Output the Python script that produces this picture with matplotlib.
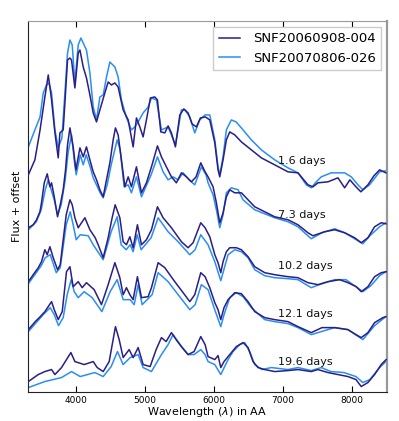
import matplotlib
matplotlib.use("Agg")
import matplotlib.pyplot as plt

# {{{ data: wavelength (AA) and flux + offset (arbitrary units)
names = ["SNF20060908-004", "SNF20070806-026"]
phase_labels = ["1.6 days", "7.3 days", "10.2 days", "12.1 days", "19.6 days"]
label_wl = 6930
label_flux = [231, 177, 126, 78, 30]

# 1.6 days
wl_a1 = [3305, 3400, 3475, 3545, 3594, 3618, 3642, 3691, 3739, 3763, 3811, 3836, 3874, 3909, 3932, 3981, 4029, 4054, 4102, 4149, 4199, 4247, 4295, 4344, 4416, 4464, 4512, 4562, 4609, 4682, 4755, 4827, 4875, 4924, 4972, 5020, 5078, 5142, 5180, 5229, 5287, 5335, 5383, 5441, 5505, 5563, 5625, 5683, 5746, 5804, 5876, 5940, 6013, 6060, 6085, 6133, 6181, 6230, 6303, 6399, 6544, 6689, 6883, 7076, 7221, 7366, 7439, 7511, 7657, 7802, 7899, 7975, 8063, 8135, 8237, 8324, 8407, 8498]
fx_a1 = [217, 232, 262, 295, 317, 305, 292, 259, 234, 259, 262, 289, 332, 334, 332, 304, 339, 342, 325, 314, 297, 279, 270, 282, 299, 310, 307, 309, 305, 282, 272, 245, 274, 265, 255, 272, 294, 295, 292, 260, 259, 266, 259, 245, 277, 283, 279, 268, 265, 274, 275, 272, 249, 222, 215, 232, 252, 260, 257, 250, 242, 234, 227, 220, 219, 207, 205, 209, 210, 214, 204, 212, 205, 200, 207, 216, 222, 219]
wl_b1 = [3305, 3400, 3475, 3521, 3569, 3604, 3642, 3691, 3739, 3792, 3836, 3874, 3909, 3942, 3981, 4029, 4068, 4102, 4149, 4199, 4247, 4295, 4344, 4392, 4440, 4489, 4562, 4609, 4657, 4726, 4802, 4852, 4900, 4972, 5045, 5093, 5165, 5238, 5335, 5441, 5528, 5577, 5650, 5722, 5795, 5872, 5940, 6013, 6060, 6085, 6133, 6181, 6253, 6322, 6399, 6544, 6689, 6883, 7076, 7221, 7342, 7414, 7487, 7559, 7704, 7899, 7995, 8092, 8164, 8261, 8407, 8498]
fx_b1 = [245, 262, 275, 299, 307, 309, 299, 262, 244, 254, 299, 339, 352, 347, 309, 347, 354, 349, 342, 319, 285, 272, 295, 297, 315, 330, 325, 315, 292, 275, 262, 265, 270, 279, 285, 294, 292, 262, 265, 247, 282, 282, 275, 259, 272, 277, 277, 252, 225, 217, 235, 262, 272, 270, 264, 252, 242, 232, 224, 219, 207, 204, 210, 215, 219, 219, 215, 207, 202, 207, 220, 221]

# 7.3 days
wl_a2 = [3305, 3376, 3424, 3473, 3496, 3536, 3579, 3618, 3642, 3681, 3729, 3768, 3811, 3845, 3874, 3909, 3956, 3996, 4054, 4102, 4149, 4199, 4247, 4295, 4344, 4392, 4440, 4489, 4537, 4570, 4609, 4657, 4707, 4755, 4802, 4875, 4948, 5020, 5093, 5180, 5238, 5310, 5383, 5455, 5528, 5601, 5673, 5741, 5809, 5872, 5915, 5988, 6036, 6085, 6133, 6181, 6230, 6303, 6399, 6496, 6593, 6738, 6883, 7076, 7221, 7366, 7439, 7608, 7754, 7899, 8044, 8140, 8237, 8334, 8430, 8498]
fx_a2 = [164, 167, 172, 180, 189, 209, 218, 205, 209, 195, 175, 187, 202, 222, 247, 264, 245, 222, 244, 235, 245, 232, 220, 212, 202, 195, 212, 229, 252, 264, 257, 232, 205, 215, 205, 225, 199, 209, 225, 246, 235, 225, 215, 209, 219, 215, 210, 215, 229, 220, 215, 205, 189, 169, 179, 195, 202, 199, 199, 192, 185, 180, 175, 172, 167, 159, 156, 160, 162, 159, 154, 149, 154, 165, 169, 168]
wl_b2 = [3305, 3420, 3492, 3550, 3594, 3637, 3681, 3729, 3782, 3840, 3884, 3932, 3971, 4000, 4058, 4102, 4145, 4203, 4247, 4348, 4392, 4450, 4508, 4595, 4638, 4696, 4755, 4802, 4875, 4948, 5088, 5180, 5262, 5335, 5407, 5480, 5553, 5640, 5722, 5818, 5886, 5915, 5988, 6036, 6085, 6133, 6181, 6253, 6351, 6423, 6593, 6738, 6883, 7076, 7221, 7414, 7570, 7754, 7899, 8044, 8164, 8266, 8407, 8498]
fx_b2 = [162, 170, 182, 202, 212, 202, 192, 177, 187, 212, 240, 257, 232, 217, 237, 227, 237, 225, 214, 199, 194, 207, 227, 252, 242, 205, 207, 199, 215, 195, 217, 235, 220, 212, 215, 212, 219, 212, 207, 225, 217, 209, 197, 182, 164, 177, 199, 204, 202, 192, 182, 178, 174, 170, 165, 153, 159, 163, 159, 153, 148, 156, 165, 169]

# 10.2 days
wl_a3 = [3305, 3376, 3449, 3496, 3545, 3579, 3618, 3666, 3729, 3768, 3811, 3855, 3909, 3942, 3981, 4029, 4126, 4199, 4276, 4319, 4392, 4464, 4522, 4566, 4634, 4682, 4730, 4779, 4827, 4889, 4948, 5020, 5093, 5180, 5262, 5383, 5528, 5625, 5698, 5809, 5872, 5940, 6013, 6060, 6100, 6133, 6181, 6230, 6326, 6399, 6496, 6593, 6738, 6883, 7076, 7221, 7366, 7511, 7657, 7826, 7947, 8067, 8140, 8237, 8334, 8430, 8502]
fx_a3 = [110, 117, 124, 130, 142, 137, 145, 134, 122, 127, 152, 177, 192, 187, 174, 164, 174, 162, 154, 147, 134, 154, 174, 187, 174, 150, 147, 155, 144, 167, 147, 152, 162, 185, 174, 164, 150, 144, 149, 169, 164, 155, 137, 129, 119, 130, 140, 144, 144, 142, 135, 125, 119, 117, 115, 114, 109, 107, 110, 112, 109, 105, 100, 105, 115, 119, 120]
wl_b3 = [3305, 3492, 3550, 3623, 3710, 3768, 3855, 3913, 3956, 4000, 4058, 4174, 4247, 4392, 4508, 4595, 4653, 4726, 4784, 4827, 4885, 4943, 5088, 5190, 5335, 5480, 5650, 5727, 5809, 5915, 6013, 6100, 6206, 6303, 6399, 6496, 6593, 6738, 6883, 7076, 7221, 7414, 7570, 7754, 7918, 8063, 8164, 8280, 8407, 8498]
fx_b3 = [108, 126, 134, 137, 119, 124, 167, 180, 167, 152, 157, 156, 147, 132, 160, 175, 147, 142, 147, 140, 157, 142, 154, 174, 160, 150, 137, 142, 157, 147, 130, 111, 137, 142, 140, 134, 122, 116, 114, 113, 112, 104, 108, 112, 112, 105, 100, 106, 116, 120]

# 12.1 days
wl_a4 = [3305, 3405, 3478, 3545, 3642, 3681, 3739, 3797, 3859, 3909, 3956, 4029, 4087, 4149, 4261, 4367, 4464, 4562, 4634, 4682, 4730, 4779, 4827, 4889, 4948, 5045, 5093, 5190, 5287, 5432, 5553, 5650, 5722, 5809, 5872, 5940, 6013, 6060, 6100, 6147, 6206, 6303, 6399, 6496, 6593, 6738, 6883, 7076, 7221, 7414, 7570, 7754, 7947, 8063, 8140, 8237, 8334, 8454, 8498]
fx_a4 = [62, 70, 75, 80, 90, 82, 72, 80, 120, 125, 105, 110, 104, 109, 102, 87, 107, 129, 114, 97, 104, 97, 92, 115, 94, 95, 104, 129, 124, 110, 99, 90, 97, 119, 115, 104, 89, 82, 72, 84, 92, 99, 98, 90, 80, 74, 72, 70, 65, 59, 64, 64, 62, 57, 54, 59, 69, 74, 75]
wl_b4 = [3305, 3521, 3623, 3681, 3743, 3811, 3869, 3927, 3971, 4029, 4116, 4232, 4373, 4493, 4595, 4682, 4784, 4842, 4900, 4958, 5103, 5190, 5335, 5480, 5650, 5727, 5818, 5915, 6002, 6100, 6147, 6230, 6326, 6423, 6544, 6738, 6883, 7076, 7221, 7414, 7754, 7947, 8164, 8334, 8498]
fx_b4 = [60, 77, 84, 77, 66, 74, 97, 112, 100, 94, 100, 94, 80, 100, 112, 92, 92, 87, 107, 87, 97, 119, 110, 97, 82, 87, 107, 102, 84, 65, 77, 94, 99, 95, 84, 72, 70, 68, 64, 57, 64, 62, 52, 66, 75]

# 19.6 days
wl_a5 = [3305, 3449, 3545, 3642, 3691, 3787, 3859, 3923, 3981, 4116, 4247, 4305, 4392, 4479, 4570, 4624, 4682, 4769, 4827, 4900, 4972, 5074, 5161, 5238, 5306, 5383, 5451, 5538, 5625, 5712, 5809, 5872, 5915, 6013, 6060, 6100, 6147, 6230, 6326, 6423, 6496, 6568, 6641, 6738, 6883, 7076, 7221, 7414, 7511, 7657, 7802, 7947, 8063, 8140, 8237, 8334, 8430, 8502]
fx_a5 = [10, 17, 20, 22, 17, 24, 32, 39, 30, 27, 30, 24, 20, 30, 65, 52, 34, 42, 34, 44, 27, 25, 42, 54, 50, 59, 52, 44, 37, 40, 55, 47, 35, 32, 36, 24, 30, 37, 45, 49, 44, 30, 24, 22, 20, 21, 22, 20, 22, 19, 17, 15, 12, 5, 9, 17, 27, 32]
wl_b5 = [3305, 3545, 3787, 3932, 4058, 4271, 4392, 4508, 4599, 4682, 4784, 4900, 4972, 5093, 5238, 5335, 5407, 5509, 5625, 5712, 5809, 5872, 5915, 6013, 6100, 6206, 6278, 6375, 6448, 6520, 6593, 6699, 6834, 7076, 7221, 7414, 7559, 7700, 7889, 8063, 8164, 8266, 8407, 8498]
fx_b5 = [4, 10, 14, 20, 15, 19, 15, 25, 40, 27, 34, 37, 24, 20, 37, 47, 57, 47, 37, 37, 42, 37, 30, 27, 17, 32, 40, 47, 49, 40, 27, 22, 24, 22, 24, 21, 24, 20, 19, 15, 9, 12, 24, 30]
# }}}

dark_wl = [wl_a1, wl_a2, wl_a3, wl_a4, wl_a5]
dark_fx = [fx_a1, fx_a2, fx_a3, fx_a4, fx_a5]
light_wl = [wl_b1, wl_b2, wl_b3, wl_b4, wl_b5]
light_fx = [fx_b1, fx_b2, fx_b3, fx_b4, fx_b5]

dark_color = "#2a1f86"
light_color = "#2a8ef2"

fig = plt.figure(figsize=(3.99, 4.21), dpi=100)
ax = fig.add_axes([0.0702, 0.070, 0.899, 0.880])

for i in range(len(phase_labels)):
    ax.plot(light_wl[i], light_fx[i], color=light_color, lw=1.1, zorder=2)
    ax.plot(dark_wl[i], dark_fx[i], color=dark_color, lw=1.1, zorder=3)
    ax.text(label_wl, label_flux[i], phase_labels[i], fontsize=8,
            va="center", ha="left", color="#111111", zorder=4)

h_dark, = ax.plot([], [], color=dark_color, lw=1.1)
h_light, = ax.plot([], [], color=light_color, lw=1.1)
ax.legend([h_dark, h_light], names, loc="upper right",
          bbox_to_anchor=(381 / 399, 1 - 27 / 421),
          bbox_transform=fig.transFigure, borderaxespad=0,
          fontsize=9.5, handlelength=1.6, handletextpad=1.0,
          fancybox=False, edgecolor="#cccccc", framealpha=1)

ax.set_xlim(3300, 8510)
ax.set_ylim(0, 371)
ax.set_xticks([4000, 5000, 6000, 7000, 8000])
ax.set_yticks([])
ax.tick_params(axis="x", direction="in", top=True, length=4,
               labelsize=6.5, pad=3)
ax.set_xlabel(r"Wavelength ($\lambda$) in AA", fontsize=8, labelpad=0)
ax.set_ylabel("Flux + offset", fontsize=8, labelpad=4)

for side in ("left", "bottom"):
    ax.spines[side].set_color("#222222")
for side in ("top", "right"):
    ax.spines[side].set_color("#999999")
ax.spines["right"].set_linewidth(1.6)

fig.savefig("out.png", dpi=100)
